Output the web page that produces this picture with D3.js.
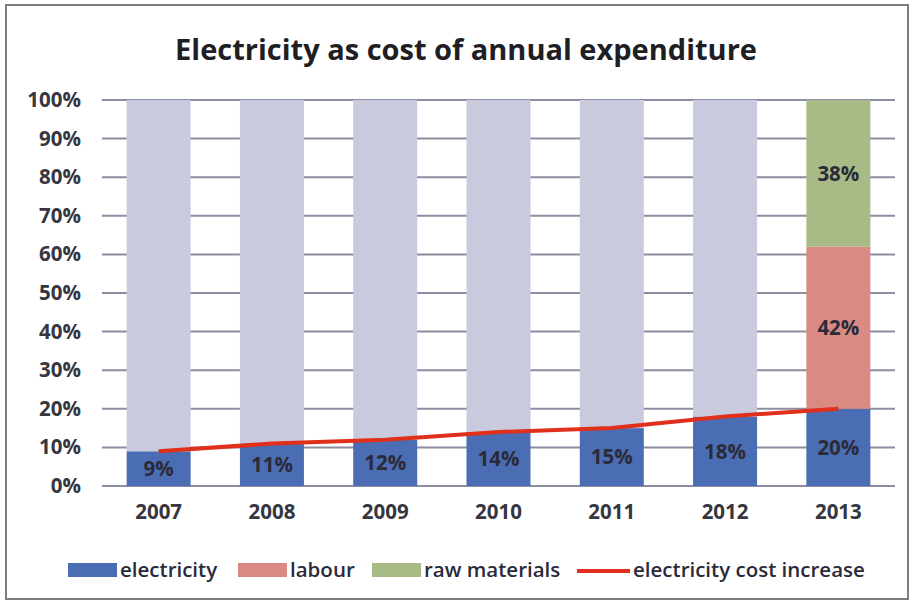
<!DOCTYPE html>
<html>
<head>
<meta charset="utf-8">
<script src="https://cdn.jsdelivr.net/npm/d3@7"></script>
<style>
  html, body { margin: 0; padding: 0; background: #fff; }
  svg { display: block; }
  text { font-family: "Open Sans", Lato, sans-serif; }
</style>
</head>
<body>
<svg id="chart" width="913" height="606"></svg>
<script>
// Share of annual expenditure per year (percent)
const years = ["2007", "2008", "2009", "2010", "2011", "2012", "2013"];
const electricity = [9, 11, 12, 14, 15, 18, 20];
const labour = [0, 0, 0, 0, 0, 0, 42];
const rawMaterials = [0, 0, 0, 0, 0, 0, 38];
const unallocated = [91, 89, 88, 86, 85, 82, 0];
const electricityCostIncrease = [9, 11, 12, 14, 15, 18, 20];
const yTicks = [0, 10, 20, 30, 40, 50, 60, 70, 80, 90, 100];

const colors = {
  electricity: "#4b6db3",
  labour: "#da8a82",
  rawMaterials: "#a8ba85",
  unallocated: "#c9cadd",
  line: "#e0301c",
  grid: "#8c8ca2",
  text: "#363640"
};

const svg = d3.select("#chart");

// outer frame
svg.append("rect")
  .attr("x", 6).attr("y", 5).attr("width", 902).attr("height", 594)
  .attr("fill", "#fff").attr("stroke", "#7d7d7d").attr("stroke-width", 2);

const plot = { left: 102, right: 895, top: 100, bottom: 486 };

const x = d3.scaleBand().domain(years)
  .range([plot.left, plot.right]).paddingInner(0.435).paddingOuter(0.2175);
const y = d3.scaleLinear().domain([0, 100]).range([plot.bottom, plot.top]);

// title
svg.append("text")
  .attr("x", 466).attr("y", 60)
  .attr("text-anchor", "middle")
  .attr("font-size", 29).attr("font-weight", 700)
  .attr("fill", "#1e1e24")
  .text("Electricity as cost of annual expenditure");

// gridlines
svg.append("g").selectAll("line").data(yTicks).join("line")
  .attr("x1", plot.left).attr("x2", plot.right)
  .attr("y1", d => y(d)).attr("y2", d => y(d))
  .attr("stroke", colors.grid).attr("stroke-width", 2);

// y axis labels
const yAxis = d3.axisLeft(y).tickValues(yTicks).tickFormat(d => d + "%").tickSize(0).tickPadding(0);
const gy = svg.append("g").attr("transform", `translate(${81},0)`).call(yAxis);
gy.select(".domain").remove();
gy.selectAll("text")
  .attr("font-size", 20.5).attr("font-weight", 700)
  .attr("fill", colors.text).attr("font-family", "'Open Sans', sans-serif");

// x axis labels
const xAxis = d3.axisBottom(x).tickSize(0).tickPadding(0);
const gx = svg.append("g").attr("transform", `translate(0,${plot.bottom + 18})`).call(xAxis);
gx.select(".domain").remove();
gx.selectAll("text")
  .attr("font-size", 20.5).attr("font-weight", 700)
  .attr("fill", colors.text).attr("font-family", "'Open Sans', sans-serif");

// stacked bars
const rows = years.map((yr, i) => ({
  year: yr,
  electricity: electricity[i],
  labour: labour[i],
  rawMaterials: rawMaterials[i],
  unallocated: unallocated[i]
}));
const keys = ["electricity", "labour", "rawMaterials", "unallocated"];
const stacked = d3.stack().keys(keys)(rows);

const layers = svg.append("g").selectAll("g").data(stacked).join("g")
  .attr("fill", d => colors[d.key]);
layers.selectAll("rect").data(d => d.filter(s => s[1] - s[0] > 0)).join("rect")
  .attr("x", d => x(d.data.year))
  .attr("width", x.bandwidth())
  .attr("y", d => y(d[1]))
  .attr("height", d => y(d[0]) - y(d[1]));

// value labels on the named segments
const labelled = stacked.filter(s => s.key !== "unallocated");
svg.append("g").selectAll("g").data(labelled).join("g")
  .selectAll("text").data(d => d.filter(s => s[1] - s[0] > 0)).join("text")
  .attr("x", d => x(d.data.year) + x.bandwidth() / 2)
  .attr("y", d => y((d[0] + d[1]) / 2))
  .attr("dy", "0.36em")
  .attr("text-anchor", "middle")
  .attr("font-size", 20.5).attr("font-weight", 700)
  .attr("fill", "#2b2b38")
  .text(d => (d[1] - d[0]) + "%");

// electricity cost increase line
const line = d3.line()
  .x((d, i) => x(years[i]) + x.bandwidth() / 2)
  .y(d => y(d));
svg.append("path")
  .datum(electricityCostIncrease)
  .attr("d", line)
  .attr("fill", "none")
  .attr("stroke", colors.line)
  .attr("stroke-width", 4);

// legend
const legendY = 570;
const legend = svg.append("g").attr("font-size", 20.5).attr("font-weight", 600).attr("fill", "#2a2a3a");
const items = [
  { label: "electricity", type: "rect", color: colors.electricity, x: 68 },
  { label: "labour", type: "rect", color: colors.labour, x: 238 },
  { label: "raw materials", type: "rect", color: colors.rawMaterials, x: 372 },
  { label: "electricity cost increase", type: "line", color: colors.line, x: 577 }
];
items.forEach(it => {
  if (it.type === "rect") {
    legend.append("rect").attr("x", it.x).attr("y", legendY - 7)
      .attr("width", 49).attr("height", 14).attr("fill", it.color);
  } else {
    legend.append("line").attr("x1", it.x).attr("x2", it.x + 53)
      .attr("y1", legendY + 1).attr("y2", legendY + 1)
      .attr("stroke", it.color).attr("stroke-width", 4);
  }
  legend.append("text").attr("x", it.type === "rect" ? it.x + 52 : it.x + 56).attr("y", legendY)
    .attr("dy", "0.33em").text(it.label);
});
</script>
</body>
</html>
